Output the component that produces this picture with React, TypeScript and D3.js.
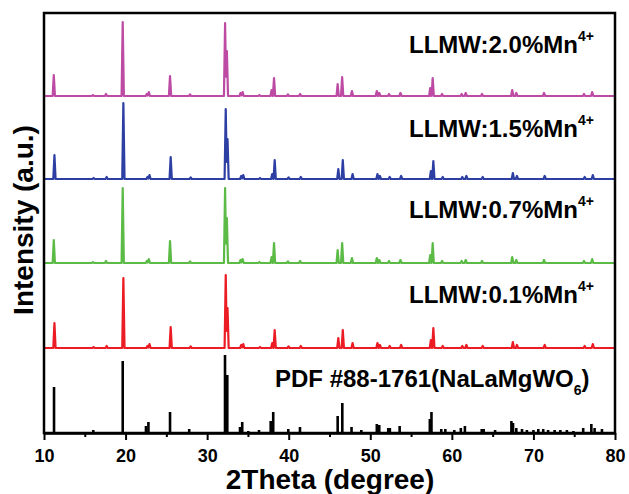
import React, { useEffect, useRef } from "react";
import * as d3 from "d3";

// ---- data ----
const xTicks = [10, 20, 30, 40, 50, 60, 70, 80];
const xMinorTicks = [15, 25, 35, 45, 55, 65, 75];

// experimental peak positions (2θ, degree)
const peakPositions = [
  11.2, 16.0, 17.6, 19.65, 22.6, 22.85, 25.45, 27.9, 32.2, 32.42, 34.1, 34.35,
  36.4, 37.9, 38.2, 39.9, 41.4, 46.0, 46.55, 47.75, 50.8, 51.1, 52.3, 53.7,
  57.35, 57.65, 58.8, 61.2, 61.7, 63.7, 67.4, 67.9, 71.3, 76.2, 77.2,
];

// relative peak intensities of each sample (same order as peakPositions)
const heights01 = [
  25, 1, 2, 70, 2, 4, 21, 1.5, 73, 40, 3, 4, 1, 5, 18, 1.5, 2, 10, 18, 5, 5, 3,
  2, 3, 8, 20, 2, 2, 3, 2, 6, 3, 3, 2, 4,
];
const heights07 = [
  23, 1, 2, 75, 2, 4, 22, 1.5, 75, 45, 3, 4, 1, 6, 20, 1.5, 2, 13, 20, 5, 5, 3,
  2, 3, 8, 20, 2, 2, 3, 2, 6, 3, 3, 2, 4,
];
const heights15 = [
  24, 1, 2, 76, 2, 4, 22, 1.5, 70, 40, 3, 4, 1, 5, 19, 1.5, 2, 10, 19, 5, 5, 3,
  2, 3, 8, 18, 2, 2, 3, 2, 6, 3, 3, 2, 4,
];
const heights20 = [
  21, 1, 2, 74, 2, 4, 20, 1.5, 73, 45, 3, 4, 1, 6, 18, 1.5, 2, 12, 19, 5, 5, 3,
  2, 3, 8, 18, 2, 2, 3, 2, 6, 3, 3, 2, 4,
];

const sampleNames = ["LLMW:0.1%Mn", "LLMW:0.7%Mn", "LLMW:1.5%Mn", "LLMW:2.0%Mn"];
const sampleOffsets = [85, 170, 254, 337];
const sampleShifts = [0.08, 0, 0.08, 0];
const sampleColors = ["#EC1C24", "#5CBB46", "#2D3FA3", "#BD4AA3"];

// PDF #88-1761 reference sticks
const pdfPositions = [
  11.23, 16.04, 19.65, 22.5, 22.8, 25.45, 27.8, 32.19, 32.47, 34.03, 34.3, 35.05,
  36.36, 37.79, 38.1, 39.95, 41.38, 46.0, 46.57, 47.7, 48.9, 50.8, 51.1, 52.2,
  52.4, 53.6, 57.3, 57.5, 58.7, 59.2, 60.3, 61.1, 61.6, 63.66, 63.9, 65.3, 67.3,
  67.5, 67.9, 68.6, 69.2, 70.0, 70.6, 71.2, 71.8, 72.6, 73.3, 74.1, 74.9, 76.1,
  77.1, 77.5, 78.4,
];
const pdfHeights = [
  46, 3, 72, 7, 11, 21, 4, 78, 58, 6, 11, 2, 3, 12, 21, 4, 6, 17, 30, 6, 3, 9, 8,
  5, 5, 7, 14, 21, 4, 4, 3, 5, 7, 4, 4, 3, 12, 10, 5, 4, 3, 3, 4, 4, 3, 3, 3, 3,
  2, 5, 9, 5, 4,
];

const W = 629;
const H = 494;
const M = { left: 44, right: 615, top: 13, bottom: 433 };
const FONT = "'Liberation Sans', Arial, Helvetica, sans-serif";

export default function App() {
  const ref = useRef<SVGSVGElement | null>(null);

  useEffect(() => {
    const svg = d3.select(ref.current);
    svg.selectAll("*").remove();

    const x = d3.scaleLinear().domain([10, 80]).range([M.left, M.right]);
    const y = d3.scaleLinear().domain([0, 420]).range([M.bottom, M.top]);

    const seriesHeights = [heights01, heights07, heights15, heights20];
    const halfW = 0.14;

    const line = d3
      .line<[number, number]>()
      .x((d) => x(d[0]))
      .y((d) => y(d[1]));

    seriesHeights.forEach((hs, i) => {
      const off = sampleOffsets[i];
      const sh = sampleShifts[i];
      const centers = peakPositions.map((p) => p + sh);
      // vertices: baseline ends plus feet and apex of each peak
      const xs: number[] = [10, 80];
      centers.forEach((c) => xs.push(c - halfW, c, c + halfW));
      xs.sort((a, b) => a - b);
      const pts: [number, number][] = xs.map((xv) => {
        let v = 0;
        centers.forEach((c, k) => {
          const dd = Math.abs(xv - c);
          if (dd < halfW) v = Math.max(v, hs[k] * (1 - dd / halfW));
        });
        return [xv, off + v];
      });
      svg
        .append("path")
        .attr("d", line(pts))
        .attr("fill", "none")
        .attr("stroke", sampleColors[i])
        .attr("stroke-width", 2.2)
        .attr("stroke-linejoin", "round");
    });

    // PDF sticks
    svg
      .append("g")
      .selectAll("line")
      .data(pdfPositions.map((p, k) => [p, pdfHeights[k]]))
      .join("line")
      .attr("x1", (d) => x(d[0]))
      .attr("x2", (d) => x(d[0]))
      .attr("y1", y(0))
      .attr("y2", (d) => y(d[1]))
      .attr("stroke", "#000")
      .attr("stroke-width", 2.6);

    // frame
    svg
      .append("rect")
      .attr("x", M.left)
      .attr("y", M.top)
      .attr("width", M.right - M.left)
      .attr("height", M.bottom - M.top)
      .attr("fill", "none")
      .attr("stroke", "#000")
      .attr("stroke-width", 2.5);

    // x axis
    const ax = svg
      .append("g")
      .attr("transform", `translate(0,${M.bottom})`)
      .call(
        d3
          .axisBottom(x)
          .tickValues(xTicks)
          .tickSize(7)
          .tickSizeOuter(0)
          .tickPadding(9)
          .tickFormat(d3.format("d"))
      );
    ax.select(".domain").attr("stroke-width", 2.5);
    ax.selectAll(".tick line").attr("stroke-width", 2);
    ax.selectAll(".tick text")
      .attr("font-family", FONT)
      .attr("font-weight", "bold")
      .attr("font-size", 18)
      .attr("fill", "#000");

    svg
      .append("g")
      .attr("transform", `translate(0,${M.bottom})`)
      .call(
        d3.axisBottom(x).tickValues(xMinorTicks).tickSize(4).tickSizeOuter(0).tickFormat(() => "")
      )
      .call((g) => g.select(".domain").remove())
      .selectAll(".tick line")
      .attr("stroke-width", 2);

    // axis titles
    svg
      .append("text")
      .attr("x", 330)
      .attr("y", 489)
      .attr("text-anchor", "middle")
      .attr("font-family", FONT)
      .attr("font-weight", "bold")
      .attr("font-size", 28)
      .text("2Theta (degree)");

    svg
      .append("text")
      .attr("transform", `translate(33,220) rotate(-90)`)
      .attr("text-anchor", "middle")
      .attr("font-family", FONT)
      .attr("font-weight", "bold")
      .attr("font-size", 28)
      .text("Intensity (a.u.)");

    // sample labels
    const labelBaselines = [302.7, 218.3, 136.7, 53.3];
    sampleNames.forEach((name, i) => {
      const t = svg
        .append("text")
        .attr("x", 409)
        .attr("y", labelBaselines[i])
        .attr("font-family", FONT)
        .attr("font-weight", "bold")
        .attr("font-size", 24);
      t.append("tspan").text(name);
      t.append("tspan").attr("font-size", 14).attr("dy", -12).text("4+");
    });

    // PDF label
    const pt = svg
      .append("text")
      .attr("x", 275)
      .attr("y", 386.7)
      .attr("font-family", FONT)
      .attr("font-weight", "bold")
      .attr("font-size", 24);
    pt.append("tspan").text("PDF #88-1761(NaLaMgWO");
    pt.append("tspan").attr("font-size", 14).attr("dy", 8).text("6");
    pt.append("tspan").attr("dy", -8).text(")");
  }, []);

  return (
    <svg
      ref={ref}
      width={W}
      height={H}
      style={{ position: "absolute", left: 0, top: 0, background: "#fff" }}
    />
  );
}
